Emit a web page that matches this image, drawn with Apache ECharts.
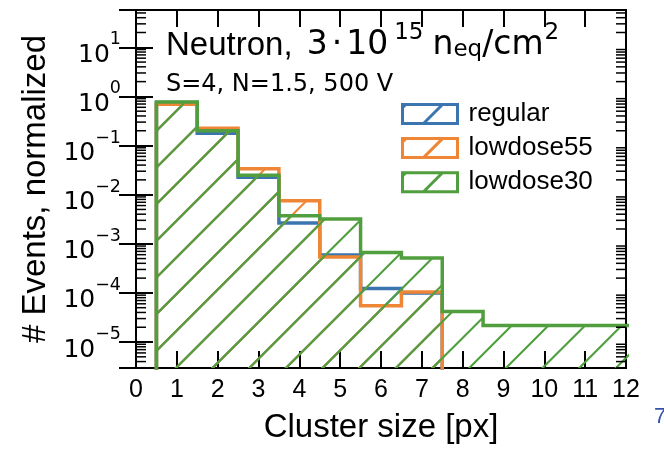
<!DOCTYPE html>
<html><head><meta charset="utf-8">
<script src="https://cdn.jsdelivr.net/npm/echarts@6/dist/echarts.min.js"></script>
<style>html,body{margin:0;padding:0;background:#fff}#c{width:664px;height:449px}</style>
</head><body><div id="c"></div>
<script>
// ---- data ----
const binCenters = [1, 2, 3, 4, 5, 6, 7, 8, 9, 10, 11, 12];
const regular   = [0.75, 0.178, 0.0227, 0.00264, 5.9e-4, 1.23e-4, 1.0e-4];
const lowdose55 = [0.69, 0.225, 0.0335, 0.00748, 5.37e-4, 5.48e-5, 1.04e-4];
const lowdose30 = [0.77, 0.201, 0.0249, 0.00371, 0.00318, 6.65e-4, 5.12e-4, 4.2e-5, 2.18e-5, 2.18e-5, 2.18e-5, 2.18e-5];
const seriesNames = ['regular', 'lowdose55', 'lowdose30'];
const xTickLabels = ['0','1','2','3','4','5','6','7','8','9','10','11','12'];
const subTitle = 'S=4, N=1.5, 500 V';

// ---- styling ----
const colors = ['#3b75af', '#ef8636', '#519e3e'];
const FONT = '"Liberation Sans", Arial, Helvetica, sans-serif';
const MATH = '"DejaVu Sans", sans-serif';
const yMin = 2.96e-6, yMax = 57.4;
const FLOOR = 1e-9;

function hatchCanvas(color) {
  const T = 110, S = T / 3, phase = 30.6;
  const c = document.createElement('canvas');
  c.width = T; c.height = T;
  const g = c.getContext('2d');
  g.strokeStyle = color; g.lineWidth = 2.1; g.lineCap = 'butt';
  for (let m = -1; m <= 7; m++) {
    const k = phase + m * S;
    g.beginPath(); g.moveTo(k + 30, -30); g.lineTo(-30, k + 30); g.stroke();
  }
  return c;
}
const hatches = colors.map(c => ({image: hatchCanvas(c), repeat: 'repeat'}));
function steps(vals) {
  const pts = [[binCenters[0] - 0.5, FLOOR]];
  vals.forEach((v, i) => { pts.push([binCenters[i] - 0.5, v]); pts.push([binCenters[i] + 0.5, v]); });
  pts.push([binCenters[vals.length - 1] + 0.5, FLOOR]);
  return pts;
}
const minorVals = [];
for (let k = -6; k <= 1; k++) for (let m = 2; m <= 9; m++) {
  const v = m * Math.pow(10, k);
  if (v > yMin && v < yMax) minorVals.push([0, v]);
}
function expLabel(v) {
  const l = Math.log10(v), e = Math.round(l);
  if (Math.abs(l - e) > 1e-6) return '';
  return '{b|10}{s|' + (e < 0 ? '\u2212' + (-e) : e) + '}';
}

const allData = [regular, lowdose55, lowdose30];
// legend icon: hatched box (outline + one diagonal hatch stroke)
const legendIcon = 'path://M0,0L55,0L55,19L0,19Z M21,19L40,0 M0,3.3L3.3,0';

const tBase = {color: '#000', fontWeight: 'normal'};
const mBig = Object.assign({fontFamily: MATH, fontSize: 33, lineHeight: 40, verticalAlign: 'bottom'}, tBase);
const mSmall = Object.assign({fontFamily: MATH, fontSize: 23, lineHeight: 23}, tBase);
const chart = echarts.init(document.getElementById('c'), null, {renderer: 'canvas'});
chart.setOption({
  animation: false,
  backgroundColor: '#fff',
  grid: {left: 136, right: 38, top: 10, bottom: 81, show: true, borderColor: '#000', borderWidth: 2, backgroundColor: 'transparent'},
  title: [
    {left: 166, top: 22, padding: 0,
     text: '{m|Neutron, }{d3|3}{dot|\u00b7}{d|10}{sup|15}{n|n}{sub|eq}{d|/cm}{sup2|2}',
     textStyle: {rich: {
       m: Object.assign({fontFamily: FONT, fontSize: 33, lineHeight: 40, verticalAlign: 'bottom'}, tBase),
       d: mBig,
       d3: Object.assign({}, mBig, {padding: [0, 0, 0, 5]}),
       dot: Object.assign({}, mBig, {padding: [0, 4, 0, 4]}),
       n: Object.assign({}, mBig, {padding: [0, 0, 0, 9]}),
       sup: Object.assign({}, mSmall, {verticalAlign: 'top', padding: [0, 0, 0, 6]}),
       sup2: Object.assign({}, mSmall, {verticalAlign: 'top', padding: [0, 0, 0, 1]}),
       sub: Object.assign({}, mSmall, {verticalAlign: 'bottom'})
     }}},
    {left: 166, top: 73, padding: 0, text: subTitle,
     textStyle: Object.assign({fontFamily: MATH, fontSize: 24}, tBase)}
  ],
  legend: {
    orient: 'vertical', left: 401, top: 101, padding: 0,
    itemWidth: 55, itemHeight: 19, itemGap: 8.1, symbolKeepAspect: false,
    textStyle: {fontSize: 26, fontFamily: FONT, color: '#000', lineHeight: 19, padding: [0, 0, 0, 6]},
    data: seriesNames.map((n, i) => ({
      name: n, icon: legendIcon,
      itemStyle: {color: 'rgba(0,0,0,0)', borderColor: colors[i], borderWidth: 3}
    }))
  },
  xAxis: [
    {type: 'value', min: 0, max: 12, interval: 1, position: 'bottom',
     name: 'Cluster size [px]', nameLocation: 'middle', nameGap: 43,
     nameTextStyle: {fontSize: 33, fontFamily: FONT, color: '#000'},
     axisLine: {show: false}, splitLine: {show: false},
     axisTick: {inside: true, length: 17, lineStyle: {color: '#000', width: 2}},
     axisLabel: {fontSize: 25, fontFamily: FONT, color: '#000', margin: 10,
                 formatter: v => xTickLabels[Math.round(v)]}},
    {type: 'value', min: 0, max: 12, interval: 1, position: 'top',
     axisLine: {show: false}, splitLine: {show: false}, axisLabel: {show: false},
     axisTick: {inside: true, length: 17, lineStyle: {color: '#000', width: 2}}}
  ],
  yAxis: [
    {type: 'log', logBase: 10, min: yMin, max: yMax, position: 'left',
     name: '# Events, normalized', nameLocation: 'middle', nameGap: 76,
     nameTextStyle: {fontSize: 33, fontFamily: FONT, color: '#000'},
     axisLine: {show: false}, splitLine: {show: false},
     axisTick: {inside: true, length: 17, lineStyle: {color: '#000', width: 2}},
     axisLabel: {margin: 15, showMinLabel: false, showMaxLabel: false, formatter: expLabel,
       rich: {
         b: {fontSize: 25, fontFamily: MATH, color: '#000', verticalAlign: 'bottom', padding: [16, 0, 0, 0]},
         s: {fontSize: 17.5, fontFamily: MATH, color: '#000', verticalAlign: 'top', padding: [4, 0, 0, 0]}
       }}},
    {type: 'log', logBase: 10, min: yMin, max: yMax, position: 'right',
     axisLine: {show: false}, splitLine: {show: false}, axisLabel: {show: false},
     axisTick: {inside: true, length: 17, lineStyle: {color: '#000', width: 2}}}
  ],
  series: allData.map((vals, i) => ({
    name: seriesNames[i], type: 'line', data: steps(vals), z: 2 + i,
    symbol: 'none', showSymbol: false, clip: true, silent: true,
    lineStyle: {color: colors[i], width: 3.5, join: 'miter'},
    itemStyle: {color: colors[i]},
    areaStyle: {color: hatches[i], opacity: 1, origin: 'start'}
  })).concat([{
    type: 'custom', name: 'minorTicks', data: minorVals, z: 10, silent: true,
    encode: {x: 0, y: 1},
    renderItem: (params, api) => {
      const v = api.value(1);
      const a = api.coord([0, v]), b = api.coord([12, v]);
      return {type: 'group', children: [
        {type: 'line', shape: {x1: a[0], y1: a[1], x2: a[0] + 10, y2: a[1]}, style: {stroke: '#000', lineWidth: 1.5}},
        {type: 'line', shape: {x1: b[0], y1: b[1], x2: b[0] - 10, y2: b[1]}, style: {stroke: '#000', lineWidth: 1.5}}
      ]};
    }
  }]),
  graphic: [{type: 'text', left: 654, top: 406, style: {text: '7', fontSize: 22, fontFamily: FONT, fill: '#3553a8'}}]
});
</script></body></html>
